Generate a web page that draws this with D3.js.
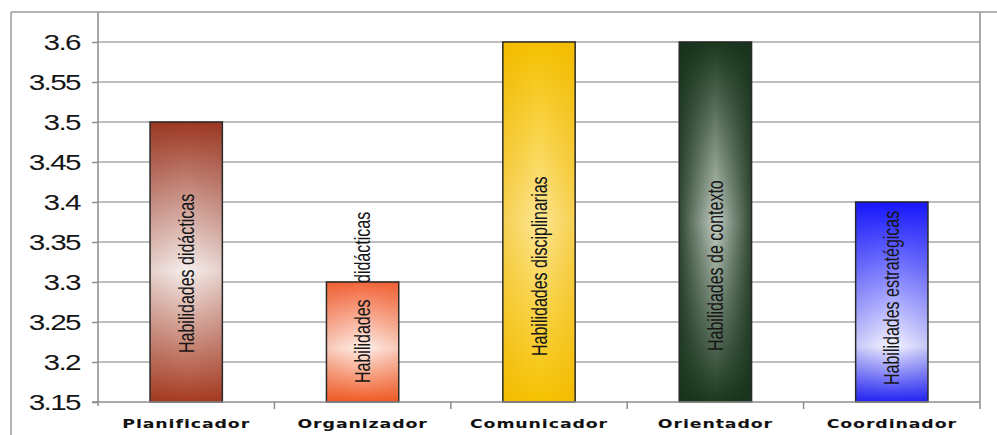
<!DOCTYPE html>
<html>
<head>
<meta charset="utf-8">
<script src="https://cdn.jsdelivr.net/npm/d3@7"></script>
<style>
  body { margin: 0; background: #fff; }
  svg { display: block; font-family: "Liberation Sans", Arial, sans-serif; }
</style>
</head>
<body>
<svg class="chart" width="997" height="435"></svg>
<script>
const categories = ["Planificador", "Organizador", "Comunicador", "Orientador", "Coordinador"];
const values = [3.5, 3.3, 3.6, 3.6, 3.4];
const barLabels = ["Habilidades didácticas", "Habilidades didácticas", "Habilidades disciplinarias",
                   "Habilidades de contexto", "Habilidades estratégicas"];
const yTicks = [3.15, 3.2, 3.25, 3.3, 3.35, 3.4, 3.45, 3.5, 3.55, 3.6];

// bar fills: vertical gradient (top, light, bottom) + side shading
const fills = [
  {top: "#9d3823", mid: "#f6eeec", midAt: 0.53, bot: "#a63a20", edge: "#8a2f1c", edgeOp: 0.15},
  {top: "#f3653a", mid: "#fff1eb", midAt: 0.55, bot: "#f15a24", edge: "#e0501e", edgeOp: 0.25},
  {top: "#f5c100", mid: "#fde795", midAt: 0.5,  bot: "#f6c200", edge: "#eeb400", edgeOp: 0.45},
  {top: "#1b381e", mid: "#c3cec3", midAt: 0.5,  bot: "#1c391f", edge: "#16301a", edgeOp: 0.85},
  {top: "#1515ff", mid: "#f4f4ff", midAt: 0.72, bot: "#2222f2", edge: "#2020e0", edgeOp: 0.2}
];
// distance of the rotated labels above the bar base (px)
const labelLift = [49, 19, 46, 51, 17];

const svg = d3.select("svg.chart");
const plot = {left: 98, right: 980, top: 12, bottom: 402};

const x = d3.scaleBand()
  .domain(categories)
  .range([plot.left, plot.right])
  .paddingInner(0.59)
  .paddingOuter(0.295);

const y = d3.scaleLinear()
  .domain([3.15, 3.6])
  .range([402, 42]);

const defs = svg.append("defs");
fills.forEach((f, i) => {
  const vg = defs.append("linearGradient").attr("id", "v" + i)
    .attr("x1", 0).attr("y1", 0).attr("x2", 0).attr("y2", 1);
  vg.append("stop").attr("offset", 0).attr("stop-color", f.top);
  vg.append("stop").attr("offset", f.midAt).attr("stop-color", f.mid);
  vg.append("stop").attr("offset", 1).attr("stop-color", f.bot);

  const hg = defs.append("linearGradient").attr("id", "h" + i)
    .attr("x1", 0).attr("y1", 0).attr("x2", 1).attr("y2", 0);
  hg.append("stop").attr("offset", 0).attr("stop-color", f.edge).attr("stop-opacity", f.edgeOp);
  hg.append("stop").attr("offset", 0.5).attr("stop-color", f.edge).attr("stop-opacity", 0);
  hg.append("stop").attr("offset", 1).attr("stop-color", f.edge).attr("stop-opacity", f.edgeOp);
});

// outer frame
svg.append("line").attr("x1", 11).attr("x2", 997).attr("y1", 12).attr("y2", 12)
  .attr("stroke", "#9a9a9a").attr("stroke-width", 1.5);
svg.append("line").attr("x1", 11).attr("x2", 11).attr("y1", 12).attr("y2", 435)
  .attr("stroke", "#9a9a9a").attr("stroke-width", 1.5);

// gridlines
svg.append("g").selectAll("line.grid")
  .data(yTicks.slice(1))
  .enter().append("line")
  .attr("class", "grid")
  .attr("x1", plot.left).attr("x2", plot.right)
  .attr("y1", d => y(d)).attr("y2", d => y(d))
  .attr("stroke", "#a9a9a9").attr("stroke-width", 1.5);

// right border of plot
svg.append("line").attr("x1", plot.right).attr("x2", plot.right)
  .attr("y1", plot.top).attr("y2", 409)
  .attr("stroke", "#8c8c8c").attr("stroke-width", 1.5);

// y axis
const yAxis = svg.append("g")
  .attr("transform", `translate(${plot.left},0)`)
  .call(d3.axisLeft(y).tickValues(yTicks).tickSize(6).tickSizeOuter(0).tickFormat(d => String(d)));
yAxis.select(".domain").remove();
yAxis.append("line").attr("x1", 0).attr("x2", 0).attr("y1", plot.top).attr("y2", 406)
  .attr("stroke", "#8c8c8c").attr("stroke-width", 1.5);
yAxis.selectAll(".tick line").attr("stroke", "#8c8c8c").attr("stroke-width", 1.5);
yAxis.selectAll(".tick text")
  .attr("x", 0).attr("dy", "0.35em")
  .attr("transform", "translate(-18,0) scale(1.35,1)")
  .attr("fill", "#151515")
  .style("font-size", "22px")
  .style("letter-spacing", "-1.2px")
  .style("font-family", "'Liberation Sans', Arial, sans-serif");

// bars
const step = x.step();
const barG = svg.append("g").selectAll("g.bar")
  .data(categories)
  .enter().append("g")
  .attr("class", "bar");

barG.append("rect")
  .attr("x", d => x(d)).attr("width", x.bandwidth())
  .attr("y", (d, i) => y(values[i])).attr("height", (d, i) => y(3.15) - y(values[i]))
  .attr("fill", (d, i) => `url(#v${i})`);
barG.append("rect")
  .attr("x", d => x(d)).attr("width", x.bandwidth())
  .attr("y", (d, i) => y(values[i])).attr("height", (d, i) => y(3.15) - y(values[i]))
  .attr("fill", (d, i) => `url(#h${i})`)
  .attr("stroke", "#2a2a2a").attr("stroke-width", 1.5);

barG.append("text")
  .text((d, i) => barLabels[i])
  .attr("transform", (d, i) =>
    `translate(${x(d) + x.bandwidth() / 2},${y(3.15) - labelLift[i]}) scale(1.35,1) rotate(-90)`)
  .attr("dy", "0.35em")
  .attr("fill", "#161616")
  .style("font-size", "16px")
  .style("word-spacing", (d, i) => i === 1 ? "12px" : "0px");

// x axis
svg.append("line").attr("x1", plot.left - 6).attr("x2", plot.right)
  .attr("y1", y(3.15)).attr("y2", y(3.15))
  .attr("stroke", "#8c8c8c").attr("stroke-width", 1.5);
svg.append("g").selectAll("line.xtick")
  .data(categories.slice(0, -1))
  .enter().append("line")
  .attr("x1", d => x(d) + x.bandwidth() / 2 + step / 2)
  .attr("x2", d => x(d) + x.bandwidth() / 2 + step / 2)
  .attr("y1", y(3.15)).attr("y2", y(3.15) + 7)
  .attr("stroke", "#8c8c8c").attr("stroke-width", 1.5);

svg.append("g").selectAll("text.xlab")
  .data(categories)
  .enter().append("text")
  .attr("class", "xlab")
  .text(d => d)
  .attr("text-anchor", "middle")
  .attr("transform", d => `translate(${x(d) + x.bandwidth() / 2},428) scale(1.45,1)`)
  .attr("fill", "#111")
  .style("font-family", "'DejaVu Sans', sans-serif")
  .style("font-size", "12px")
  .style("font-weight", "bold")
  .style("letter-spacing", "0.6px");
</script>
</body>
</html>
